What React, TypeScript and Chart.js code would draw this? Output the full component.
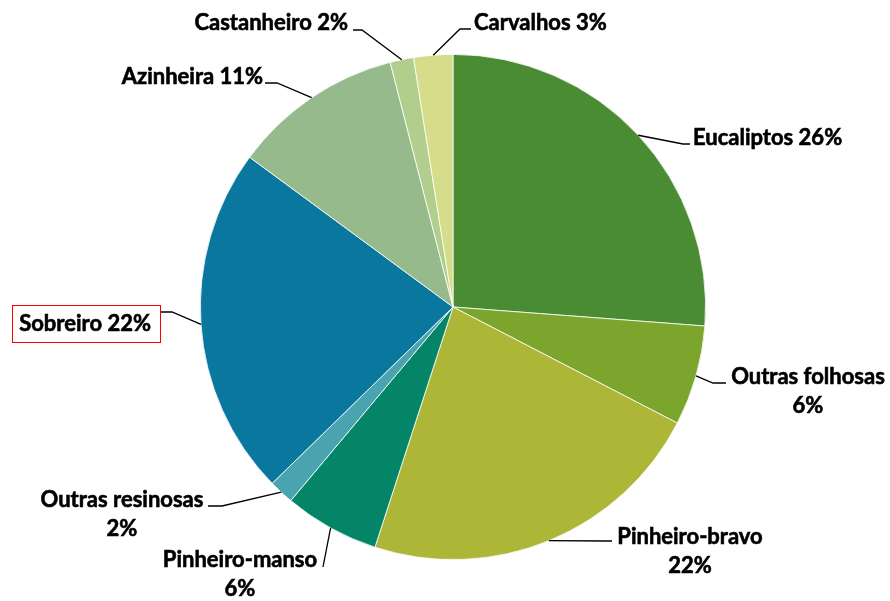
import React, { useEffect, useRef } from "react";
import { Chart, registerables } from "chart.js";

Chart.register(...registerables);

const categories = [
  "Eucaliptos",
  "Outras folhosas",
  "Pinheiro-bravo",
  "Pinheiro-manso",
  "Outras resinosas",
  "Sobreiro",
  "Azinheira",
  "Castanheiro",
  "Carvalhos",
];
const shares = [26.2, 6.4, 22.4, 6.1, 1.6, 22.4, 10.9, 1.5, 2.5];
const percentLabels = ["26%", "6%", "22%", "6%", "2%", "22%", "11%", "2%", "3%"];
const colors = [
  "#4A8C33",
  "#7BA52D",
  "#ADB637",
  "#048568",
  "#4AA4AF",
  "#0A779E",
  "#96BA8B",
  "#B2CE8D",
  "#D5DD8B",
];

type LabelLayout = {
  twoLine: boolean;
  x: number;
  y: number;
  align: "left" | "right" | "center";
  path: [number, number][];
  box?: [number, number, number, number];
};
const layouts: LabelLayout[] = [
  { twoLine: false, x: 693, y: 138, align: "left", path: [[683, 144], [690, 144]] },
  { twoLine: true, x: 808, y: 377, align: "center", path: [[713, 383], [726, 383]] },
  { twoLine: true, x: 690, y: 537, align: "center", path: [[605, 541], [612, 541]] },
  { twoLine: true, x: 240, y: 560, align: "center", path: [[323, 567]] },
  { twoLine: true, x: 122, y: 500, align: "center", path: [[222, 506], [208, 506]] },
  { twoLine: false, x: 151, y: 324, align: "right", path: [[172, 312], [161, 312]], box: [12.5, 305.5, 148, 37] },
  { twoLine: false, x: 263, y: 77, align: "right", path: [[277, 83], [265, 83]] },
  { twoLine: false, x: 348, y: 23, align: "right", path: [[362, 30], [353, 30]] },
  { twoLine: false, x: 474, y: 23, align: "left", path: [[460, 29], [471, 29]] },
];

const FONT = "bold 22px Lato, 'Open Sans', sans-serif";
const LINE_GAP = 29;

const labelPlugin = {
  id: "pieLabels",
  afterDatasetsDraw(chart: any) {
    const ctx = chart.ctx as CanvasRenderingContext2D;
    const meta = chart.getDatasetMeta(0);
    ctx.save();
    ctx.font = FONT;
    ctx.textBaseline = "middle";
    const drawText = (t: string, x: number, y: number) => {
      ctx.lineWidth = 0.6;
      ctx.strokeStyle = "#000";
      ctx.fillStyle = "#000";
      ctx.fillText(t, x, y);
      ctx.strokeText(t, x, y);
    };
    meta.data.forEach((arc: any, i: number) => {
      const L = layouts[i];
      const mid = (arc.startAngle + arc.endAngle) / 2;
      const sx = arc.x + Math.cos(mid) * arc.outerRadius;
      const sy = arc.y + Math.sin(mid) * arc.outerRadius;
      ctx.strokeStyle = "#000";
      ctx.lineWidth = 1.3;
      ctx.beginPath();
      ctx.moveTo(sx, sy);
      L.path.forEach(([px, py]) => ctx.lineTo(px, py));
      ctx.stroke();

      ctx.textAlign = L.align;
      if (L.twoLine) {
        drawText(categories[i], L.x, L.y);
        drawText(percentLabels[i], L.x, L.y + LINE_GAP);
      } else {
        drawText(categories[i] + " " + percentLabels[i], L.x, L.y);
        if (L.box) {
          ctx.strokeStyle = "#FF0000";
          ctx.lineWidth = 1;
          ctx.strokeRect(L.box[0], L.box[1], L.box[2], L.box[3]);
        }
      }
    });
    ctx.restore();
  },
};

export default function App() {
  const ref = useRef<HTMLCanvasElement | null>(null);
  useEffect(() => {
    if (!ref.current) return;
    const chart = new Chart(ref.current, {
      type: "pie",
      data: {
        labels: categories,
        datasets: [
          {
            data: shares,
            backgroundColor: colors,
            borderColor: "#FFFFFF",
            borderWidth: 0.8,
          },
        ],
      },
      options: {
        responsive: false,
        animation: false,
        layout: { padding: { top: 54, bottom: 41, left: 200, right: 184 } },
        plugins: {
          legend: { display: false },
          tooltip: { enabled: false },
        },
      },
      plugins: [labelPlugin],
    });
    return () => chart.destroy();
  }, []);
  return (
    <div style={{ position: "fixed", left: 0, top: 0, width: 890, height: 601, background: "#fff" }}>
      <canvas ref={ref} width={890} height={601} style={{ width: 890, height: 601 }} />
    </div>
  );
}
